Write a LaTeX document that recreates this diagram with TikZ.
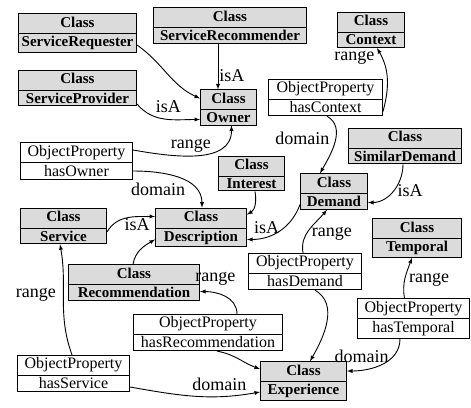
\documentclass[tikz,border=0pt]{standalone}
\usepackage{fontspec}
\setmainfont{Liberation Serif}
\usepackage{tikz}
\usetikzlibrary{arrows,shapes.multipart}

\begin{document}
\begin{tikzpicture}[x=1pt,y=-1pt,
  box/.style={rectangle split, rectangle split parts=2, draw, line width=1pt,
    inner xsep=2pt, inner ysep=2pt, text height=11pt, text depth=4pt, align=center},
  cls/.style={box, fill=gray!28, font=\fontsize{15}{17}\selectfont\bfseries, text width=#1},
  prop/.style={box, fill=white, font=\fontsize{16}{18}\selectfont, text width=#1},
  lbl/.style={font=\fontsize{18}{20}\selectfont, inner sep=1pt},
  rel/.style={-latex, line width=0.9pt}]
\useasboundingbox (0,0) rectangle (471,407);
% classes
\node[cls=114pt] (sreq) at (77.5,33) {Class\nodepart{two}ServiceRequester};
\node[cls=114pt] (sprov) at (77.5,88) {Class\nodepart{two}ServiceProvider};
\node[cls=149pt] (srec) at (230,25.5) {Class\nodepart{two}ServiceRecommender};
\node[cls=52pt] (owner) at (228.5,107.5) {Class\nodepart{two}Owner};
\node[cls=63pt] (context) at (371,30) {Class\nodepart{two}Context};
\node[cls=62pt] (interest) at (251.5,173.5) {Class\nodepart{two}Interest};
\node[cls=87pt] (descr) at (201,227.5) {Class\nodepart{two}Description};
\node[cls=82pt] (service) at (63.5,226) {Class\nodepart{two}Service};
\node[cls=109pt] (simdem) at (405,146) {Class\nodepart{two}SimilarDemand};
\node[cls=63pt] (demand) at (334,191.5) {Class\nodepart{two}Demand};
\node[cls=85pt] (temporal) at (417,238) {Class\nodepart{two}Temporal};
\node[cls=127pt] (recom) at (134,282.5) {Class\nodepart{two}Recommendation};
\node[cls=82pt] (exper) at (303.5,381) {Class\nodepart{two}Experience};
% object properties
\node[prop=110pt] (hasctx) at (325.5,97.5) {ObjectProperty\nodepart{two}hasContext};
\node[prop=108pt] (hasown) at (76.5,161) {ObjectProperty\nodepart{two}hasOwner};
\node[prop=109pt] (hasdem) at (305,271.5) {ObjectProperty\nodepart{two}hasDemand};
\node[prop=145pt] (hasrec) at (208,332.5) {ObjectProperty\nodepart{two}hasRecommendation};
\node[prop=108pt] (hastmp) at (413.5,318.5) {ObjectProperty\nodepart{two}hasTemporal};
\node[prop=108pt] (hassrv) at (73.5,373.5) {ObjectProperty\nodepart{two}hasService};
% isA
\draw[rel] ([yshift=-12pt]sreq.east) to [out=-35,in=155] ([yshift=9pt]owner.west);
\draw[rel] ([yshift=-16pt]sprov.east) to [out=-50,in=180] node[lbl,pos=0.55,above=5pt] (l1) {isA} ([yshift=-12pt]owner.west);
\draw[rel] ([xshift=-12pt]srec.south) to node[lbl,pos=0.7,right] (l2) {isA} ([xshift=-10.5pt]owner.north);
\draw[rel] ([yshift=-6pt]service.east) to [out=60,in=180] node[lbl,pos=0.95,below left=1pt] (l3) {isA} ([yshift=11pt]descr.west);
\draw[rel] ([xshift=-1pt]recom.north) to [out=80,in=210] ([yshift=-12pt]descr.west);
\draw[rel] ([xshift=3.5pt]interest.south) to [out=-80,in=30] ([yshift=13pt]descr.east);
\draw[rel] ([yshift=-13pt]demand.west) to [out=-110,in=0] node[lbl,pos=0.72,above=2pt] (l4) {isA} ([yshift=-12pt]descr.east);
\draw[rel] ([xshift=-2pt]simdem.south) to [out=-90,in=0] node[lbl,pos=0.5,right=3pt] (l5) {isA} ([yshift=-11pt]demand.east);
% range
\draw[rel] ([yshift=-14pt]hasctx.east) to [out=75,in=-60] node[lbl,pos=0.85,left=6pt] (l6) {range} ([xshift=6pt]context.south);
\draw[rel] ([yshift=11pt]hasown.east) to [out=-10,in=-90] node[lbl,pos=0.45,above=2pt] (l7) {range} ([xshift=3pt]owner.south);
\draw[rel] ([xshift=-2pt]hasdem.north) to [out=100,in=-130] node[lbl,pos=0.4,right=4pt] (l8) {range} ([xshift=-7pt]demand.south);
\draw[rel] ([xshift=29pt]hasrec.north) to [out=90,in=0] node[lbl,pos=0.7,above=6pt] (l9) {range} ([yshift=-9pt]recom.east);
\draw[rel] ([xshift=-1.5pt]hassrv.north) to [out=110,in=-80] node[lbl,pos=0.55,left=6pt] (l10) {range} ([xshift=-3.5pt]service.south);
\draw[rel] ([xshift=-9pt]hastmp.north) to [out=100,in=-110] node[lbl,pos=0.45,right=3pt] (l11) {range} ([xshift=-5pt]temporal.south);
% domain
\draw[rel] ([xshift=1.5pt]hasctx.south) to [out=-30,in=60] node[lbl,pos=0.45,left=5pt] (l12) {domain} ([xshift=-14pt]demand.north);
\draw[rel] ([yshift=-10pt]hasown.east) to [out=0,in=90] node[lbl,pos=0.6,below left=0pt] (l13) {domain} ([xshift=1pt]descr.north);
\draw[rel] ([xshift=10pt]hasdem.south) to [out=-30,in=60] ([xshift=6.5pt]exper.north);
\draw[rel] ([xshift=9pt]hasrec.south) to [out=-10,in=160] ([yshift=12pt]exper.west);
\draw[rel] ([yshift=-13.5pt]hassrv.east) to [out=-10,in=190] node[lbl,pos=0.7,above=4pt] (l14) {domain} ([yshift=-11pt]exper.west);
\draw[rel] ([xshift=-13.5pt]hastmp.south) to [out=-90,in=0] node[lbl,pos=0.3,left=3pt] (l15) {domain} ([yshift=10pt]exper.east);
\end{tikzpicture}
\end{document}
